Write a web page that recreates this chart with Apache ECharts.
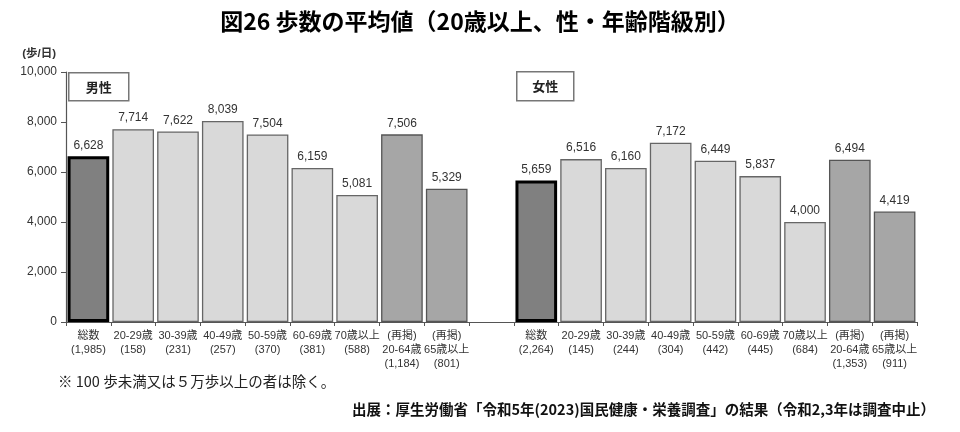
<!DOCTYPE html>
<html><head><meta charset="utf-8">
<script src="https://cdn.jsdelivr.net/npm/echarts@6/dist/echarts.min.js"></script>
<style>html,body{margin:0;padding:0;background:#fff}#c{width:960px;height:432px}</style>
</head><body><div id="c"></div>
<script>
const maleCategories = ['総数\n(1,985)','20-29歳\n(158)','30-39歳\n(231)','40-49歳\n(257)','50-59歳\n(370)','60-69歳\n(381)','70歳以上\n(588)','(再掲)\n20-64歳\n(1,184)','(再掲)\n65歳以上\n(801)'];
const femaleCategories = ['総数\n(2,264)','20-29歳\n(145)','30-39歳\n(244)','40-49歳\n(304)','50-59歳\n(442)','60-69歳\n(445)','70歳以上\n(684)','(再掲)\n20-64歳\n(1,353)','(再掲)\n65歳以上\n(911)'];
const maleValues = [6628, 7714, 7622, 8039, 7504, 6159, 5081, 7506, 5329];
const femaleValues = [5659, 6516, 6160, 7172, 6449, 5837, 4000, 6494, 4419];
const barKinds = ['total','age','age','age','age','age','age','repost','repost'];
const yTicks = [0, 2000, 4000, 6000, 8000, 10000];

const styles = {
  total: {color:'#808080', borderColor:'#000', borderWidth:3},
  age: {color:'#d9d9d9', borderColor:'#666', borderWidth:1.3},
  repost: {color:'#a6a6a6', borderColor:'#555', borderWidth:1.3}
};
const categories = maleCategories.concat([''], femaleCategories);
const values = [];
maleValues.forEach((v,i)=>values.push({value:v, itemStyle:styles[barKinds[i]]}));
values.push({value:null});
femaleValues.forEach((v,i)=>values.push({value:v, itemStyle:styles[barKinds[i]]}));

const font = '"Liberation Sans", "Noto Sans CJK JP", sans-serif';
const chart = echarts.init(document.getElementById('c'));
chart.setOption({
  animation:false,
  textStyle:{fontFamily:font},
  title:{text:'図26 歩数の平均値（20歳以上、性・年齢階級別）', left:'center', top:5,
    textStyle:{fontFamily:'"Noto Sans CJK JP", sans-serif', fontWeight:'bold', fontSize:23, color:'#000'}},
  grid:{left:66, right:43, top:72, bottom:110, containLabel:false},
  xAxis:{type:'category', data:categories,
    axisLine:{lineStyle:{color:'#555', width:1.2}},
    axisTick:{show:true, alignWithLabel:false, interval:0, length:4, lineStyle:{color:'#555'}},
    axisLabel:{interval:0, fontSize:11, color:'#333', lineHeight:14, margin:7, fontFamily:font}},
  yAxis:{type:'value', min:yTicks[0], max:yTicks[yTicks.length-1], interval:2000,
    name:'(歩/日)', nameLocation:'end', nameGap:12,
    nameTextStyle:{fontSize:11.5, color:'#333', align:'right', padding:[0,10,0,0], fontWeight:'bold'},
    splitLine:{show:false},
    axisLine:{show:true, lineStyle:{color:'#555', width:1.2}},
    axisTick:{show:true, length:5, lineStyle:{color:'#555'}},
    axisLabel:{fontSize:12, color:'#333', margin:9, formatter:v=>v.toLocaleString('en-US')}},
  series:[{type:'bar', data:values, barCategoryGap:'7%',
    label:{show:true, position:'top', distance:5, fontSize:12, color:'#333',
      formatter:p=>p.value==null?'':p.value.toLocaleString('en-US')}}],
  graphic:[
    {type:'group', left:68, top:72, children:[
      {type:'rect', shape:{x:0,y:0,width:60,height:28}, style:{fill:'#fff', stroke:'#777', lineWidth:1.5}},
      {type:'text', x:30, y:14, style:{text:'男性', fill:'#222', align:'center', verticalAlign:'middle', font:'bold 13px "Noto Sans CJK JP"'}}]},
    {type:'group', left:516, top:71, children:[
      {type:'rect', shape:{x:0,y:0,width:57,height:29}, style:{fill:'#fff', stroke:'#777', lineWidth:1.5}},
      {type:'text', x:28.5, y:14.5, style:{text:'女性', fill:'#222', align:'center', verticalAlign:'middle', font:'bold 13px "Noto Sans CJK JP"'}}]},
    {type:'text', left:58, top:374, style:{text:'※ 100 歩未満又は５万歩以上の者は除く。', font:'14.5px "Noto Sans CJK JP"', fill:'#222'}},
    {type:'text', right:25, top:402, style:{text:'出展：厚生労働省「令和5年(2023)国民健康・栄養調査」の結果（令和2,3年は調査中止）', font:'bold 14.5px "Noto Sans CJK JP"', fill:'#111'}}
  ]
});
</script></body></html>
